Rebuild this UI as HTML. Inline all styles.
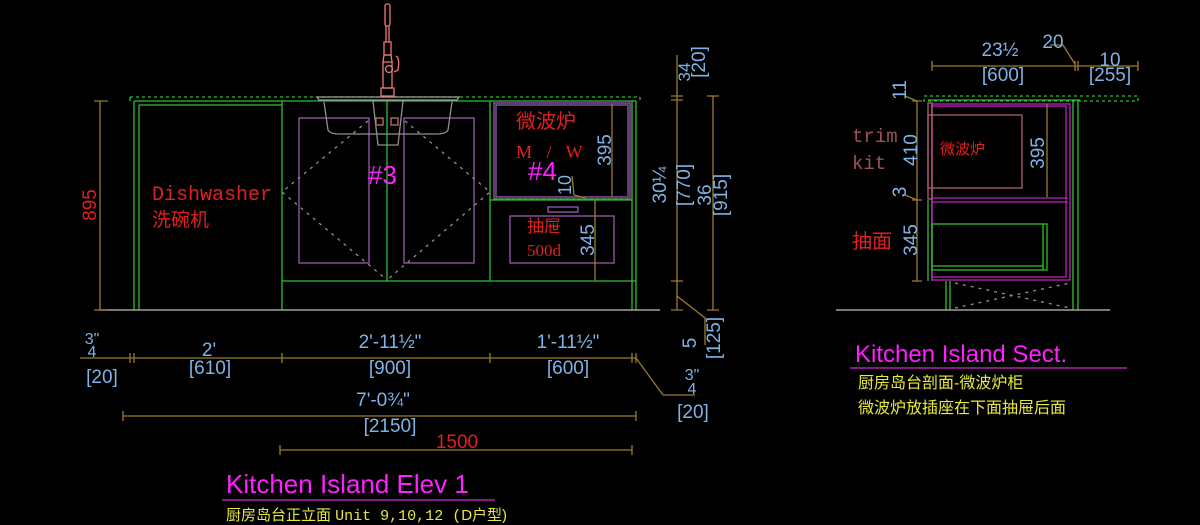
<!DOCTYPE html>
<html><head><meta charset="utf-8"><style>
html,body{margin:0;padding:0;background:#000;}
svg{display:block}
text{font-family:"Liberation Sans","Noto Sans CJK SC",sans-serif}
.b{fill:#7fb2e6;font-size:19px}
.m{font-family:"Liberation Mono","Noto Sans CJK SC",monospace}
</style></head><body>
<svg width="1200" height="525" viewBox="0 0 1200 525" xmlns="http://www.w3.org/2000/svg">
<rect width="1200" height="525" fill="#000"/>
<g fill="none" stroke-width="1.3">
<path d="M130 97H640V101" stroke="#2fc02f" stroke-dasharray="3 3"/>
<line x1="130" y1="97" x2="130" y2="101" stroke="#2fc02f"/>
<line x1="134" y1="101" x2="636" y2="101" stroke="#2fc02f"/>
<line x1="134" y1="101" x2="134" y2="310" stroke="#2fc02f"/>
<line x1="139" y1="105" x2="139" y2="310" stroke="#2fc02f"/>
<line x1="139" y1="105" x2="282" y2="105" stroke="#2fc02f"/>
<line x1="282" y1="101" x2="282" y2="310" stroke="#2fc02f"/>
<line x1="387" y1="101" x2="387" y2="281" stroke="#2fc02f"/>
<line x1="282" y1="281" x2="636" y2="281" stroke="#2fc02f"/>
<line x1="490" y1="101" x2="490" y2="281" stroke="#2fc02f"/>
<line x1="632" y1="101" x2="632" y2="310" stroke="#2fc02f"/>
<line x1="636" y1="101" x2="636" y2="310" stroke="#2fc02f"/>
<line x1="490" y1="200" x2="632" y2="200" stroke="#2fc02f"/>
<line x1="100" y1="310" x2="660" y2="310" stroke="#a0a0a0" stroke-width="1.5"/>
<rect x="299" y="118" width="70" height="145" stroke="#9a5ab0"/>
<rect x="404" y="118" width="70" height="145" stroke="#9a5ab0"/>
<path d="M368 121L282 192L387 280M405 121L490 192L387 280" stroke="#909090" stroke-dasharray="3 5"/>
<path d="M317 97H459L457 100H319Z" stroke="#a0a0a0"/>
<path d="M324 102L328 130Q330 134 340 134H436Q446 134 448 130L452 102" stroke="#909090"/>
<path d="M373 101L378 145H398L403 101" stroke="#909090"/>
<rect x="376" y="118" width="7" height="7" stroke="#c07070"/>
<rect x="391" y="118" width="7" height="7" stroke="#c07070"/>
<g stroke="#f07878">
<rect x="385" y="4" width="5" height="22" rx="2"/>
<path d="M386 26V42H389V26M384 42H391V55H384Z"/>
<path d="M384 55H391L392 62H383Z"/>
<path d="M383 62V88H392V62"/>
<circle cx="389" cy="69" r="3.5"/>
<path d="M396 56Q400 58 398 70L394 72"/>
<path d="M381 88H394V96H381Z"/>
</g>
<rect x="494" y="103" width="136" height="96" stroke="#9a5ab0"/>
<rect x="496" y="105" width="132" height="92" stroke="#9a5ab0"/>
<line x1="494" y1="199" x2="630" y2="199" stroke="#2fc02f" stroke-dasharray="3 3"/>
<rect x="548" y="207" width="30" height="5" stroke="#9a5ab0"/>
<rect x="510" y="216" width="104" height="47" stroke="#9a5ab0"/>
<g stroke="#9c7b2a">
<line x1="612" y1="104" x2="612" y2="197"/>
<line x1="595" y1="200" x2="595" y2="281"/>
<path d="M572 176L574 195L585 198"/>
<line x1="677" y1="55" x2="677" y2="310"/>
<line x1="713" y1="96" x2="713" y2="310"/>
<path d="M671 96H683M671 100H683M671 281H683M671 310H683M707 96H719M707 310H719"/>
<path d="M677 296L705 318V345"/>
<line x1="80" y1="358" x2="636" y2="358"/>
<path d="M130 353V363M134 353V363M282 353V363M490 353V363M632 353V363M636 353V363"/>
<path d="M636 358L663 395H695"/>
<line x1="123" y1="416" x2="636" y2="416"/>
<path d="M123 411V421M636 411V421"/>
<line x1="280" y1="450" x2="632" y2="450"/>
<path d="M280 445V455M632 445V455"/>
<line x1="100" y1="101" x2="100" y2="310"/>
<path d="M94 101H108M94 310H108"/>
</g>
<line x1="222" y1="500" x2="495" y2="500" stroke="#b020b0" stroke-width="1.5"/>
<rect x="924" y="96" width="214" height="5" stroke="#2fc02f" stroke-dasharray="3 3"/>
<line x1="928" y1="100" x2="1080" y2="100" stroke="#2fc02f"/>
<line x1="928" y1="200" x2="928" y2="281" stroke="#2fc02f"/>
<line x1="932" y1="200" x2="932" y2="281" stroke="#2fc02f"/>
<line x1="1073" y1="100" x2="1073" y2="310" stroke="#2fc02f"/>
<line x1="1078" y1="100" x2="1078" y2="310" stroke="#2fc02f"/>
<rect x="932" y="104" width="138" height="176" stroke="#c020c0"/>
<rect x="932" y="106" width="134" height="171" stroke="#c020c0"/>
<path d="M932 198H1068M932 202H1068" stroke="#c020c0"/>
<rect x="928" y="103" width="4" height="96" stroke="#b06070"/>
<rect x="928" y="115" width="94" height="73" stroke="#b06070"/>
<rect x="932" y="224" width="115" height="46" stroke="#2fc02f"/>
<path d="M932 266H1043M1043 224V270" stroke="#2fc02f"/>
<path d="M946 281V310M950 281V310" stroke="#2fc02f"/>
<path d="M955 283L1070 308M955 308L1070 283" stroke="#909090" stroke-dasharray="3 5"/>
<line x1="836" y1="310" x2="1110" y2="310" stroke="#a0a0a0" stroke-width="1.5"/>
<g stroke="#9c7b2a">
<line x1="932" y1="66" x2="1138" y2="66"/>
<path d="M932 61V71M1075 61V71M1078 61V71M1138 61V71"/>
<path d="M1050 45H1063L1075 64"/>
<line x1="917" y1="101" x2="917" y2="281"/>
<path d="M912 101H922M912 200H922M912 281H922"/>
<path d="M905 96L917 101M905 195L917 200"/>
<line x1="1047" y1="104" x2="1047" y2="197"/>
</g>
<line x1="850" y1="368" x2="1127" y2="368" stroke="#b020b0" stroke-width="1.5"/>
</g>
<text x="100" y="205" fill="#e02020" font-size="19" transform="rotate(-90 100 205)" text-anchor="middle" dy="-4">895</text>
<text x="152" y="200" fill="#e02020" font-size="20" font-family="Liberation Mono,monospace" style="font-family:'Liberation Mono',monospace">Dishwasher</text>
<text x="152" y="226" fill="#e02020" font-size="19">洗碗机</text>
<text x="368" y="184" fill="#ff20ff" font-size="26">#3</text>
<text x="516" y="128" fill="#e02020" font-size="20">微波炉</text>
<text x="516" y="158" fill="#e02020" font-size="18" letter-spacing="5" style="font-family:'Liberation Serif',serif">M / W</text>
<text x="528" y="180" fill="#ff20ff" font-size="26">#4</text>
<text x="527" y="232" fill="#e02020" font-size="17">抽屉</text>
<text x="527" y="256" fill="#e02020" font-size="17" style="font-family:'Liberation Serif',serif">500d</text>
<g class="b">
<text transform="translate(611 150) rotate(-90)" text-anchor="middle">395</text>
<text transform="translate(571 185) rotate(-90)" text-anchor="middle" font-size="18">10</text>
<text transform="translate(594 240) rotate(-90)" text-anchor="middle">345</text>
<text transform="translate(690 72) rotate(-90)" text-anchor="middle" font-size="17">34</text>
<text transform="translate(705 62) rotate(-90)" text-anchor="middle">[20]</text>
<text transform="translate(666 185) rotate(-90)" text-anchor="middle">30¼</text>
<text transform="translate(690 185) rotate(-90)" text-anchor="middle">[770]</text>
<text transform="translate(711 195) rotate(-90)" text-anchor="middle">36</text>
<text transform="translate(727 195) rotate(-90)" text-anchor="middle">[915]</text>
<text transform="translate(696 343) rotate(-90)" text-anchor="middle">5</text>
<text transform="translate(720 338) rotate(-90)" text-anchor="middle">[125]</text>
<text x="92" y="344" text-anchor="middle" font-size="16">3"</text>
<text x="92" y="357" text-anchor="middle" font-size="16">4</text>
<text x="102" y="383" text-anchor="middle">[20]</text>
<text x="209" y="356" text-anchor="middle">2'</text>
<text x="210" y="374" text-anchor="middle">[610]</text>
<text x="390" y="348" text-anchor="middle">2'-11½"</text>
<text x="390" y="374" text-anchor="middle">[900]</text>
<text x="568" y="348" text-anchor="middle">1'-11½"</text>
<text x="568" y="374" text-anchor="middle">[600]</text>
<text x="692" y="380" text-anchor="middle" font-size="16">3"</text>
<text x="692" y="394" text-anchor="middle" font-size="16">4</text>
<text x="693" y="418" text-anchor="middle">[20]</text>
<text x="383" y="406" text-anchor="middle">7'-0¾"</text>
<text x="390" y="432" text-anchor="middle">[2150]</text>
</g>
<text x="457" y="448" fill="#e02020" font-size="19" text-anchor="middle">1500</text>
<text x="226" y="493" fill="#ff20ff" font-size="26">Kitchen Island Elev 1</text>
<text x="226" y="520" fill="#e8e840" font-size="15">厨房岛台正立面 <tspan style="font-family:'Liberation Mono',monospace">Unit 9,10,12 (</tspan>D户型)</text>
<g class="b">
<text x="1000" y="56" text-anchor="middle">23½</text>
<text x="1003" y="81" text-anchor="middle">[600]</text>
<text x="1053" y="48" text-anchor="middle">20</text>
<text x="1110" y="66" text-anchor="middle">10</text>
<text x="1110" y="81" text-anchor="middle">[255]</text>
<text transform="translate(906 90) rotate(-90)" text-anchor="middle">11</text>
<text transform="translate(917 150) rotate(-90)" text-anchor="middle">410</text>
<text transform="translate(906 192) rotate(-90)" text-anchor="middle">3</text>
<text transform="translate(917 240) rotate(-90)" text-anchor="middle">345</text>
<text transform="translate(1044 153) rotate(-90)" text-anchor="middle">395</text>
</g>
<text x="852" y="142" fill="#a05058" font-size="19" class="m">trim</text>
<text x="852" y="169" fill="#a05058" font-size="19" class="m">kit</text>
<text x="940" y="154" fill="#e02020" font-size="15">微波炉</text>
<text x="852" y="248" fill="#e02020" font-size="20">抽面</text>
<text x="855" y="362" fill="#ff20ff" font-size="24">Kitchen Island Sect.</text>
<text x="858" y="388" fill="#e8e840" font-size="16">厨房岛台剖面-微波炉柜</text>
<text x="858" y="413" fill="#e8e840" font-size="16">微波炉放插座在下面抽屉后面</text>
</svg>
</body></html>
